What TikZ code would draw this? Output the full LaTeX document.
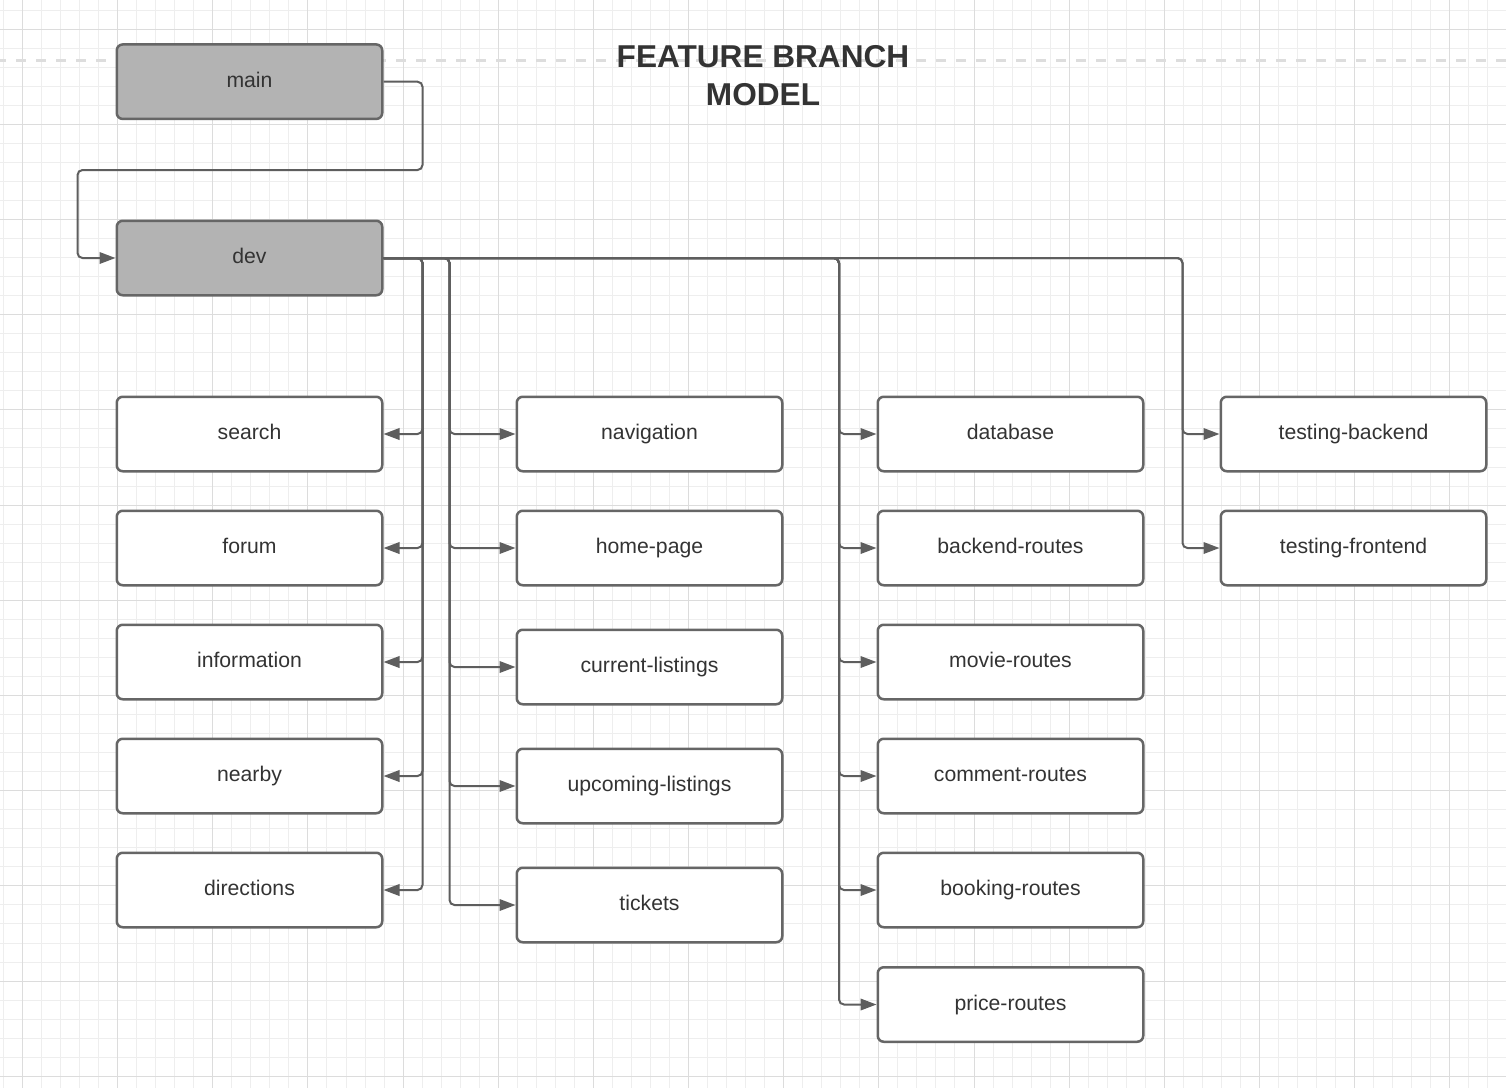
\documentclass[tikz,border=0pt]{standalone}
\usepackage{fontspec}
\setmainfont{Liberation Sans}
\usetikzlibrary{arrows.meta}
\definecolor{gridminor}{HTML}{EEEEEE}
\definecolor{gridmajor}{HTML}{DCDCDC}
\definecolor{edgec}{HTML}{666666}
\definecolor{wirec}{HTML}{5E5E5E}
\definecolor{txtc}{HTML}{333333}
\definecolor{greyfill}{HTML}{B3B3B3}
\definecolor{dashc}{HTML}{DDDDDD}
\begin{document}
\begin{tikzpicture}[x=1pt,y=-1pt,
  branch/.style={draw=edgec, line width=2.5pt, rounded corners=6pt, fill=white,
    minimum width=265.5pt, minimum height=74.5pt, inner sep=0pt, text=txtc,
    font=\fontsize{21.2}{25}\selectfont, text height=15pt, text depth=4pt},
  trunk/.style={branch, fill=greyfill},
  wire/.style={draw=wirec, line width=2pt, rounded corners=5pt,
    -{Triangle[length=16pt,width=11.5pt]}},
  titletext/.style={align=center, text=txtc, inner sep=0pt,
    font=\bfseries\fontsize{31.6}{38}\selectfont}]
\useasboundingbox (0,0) rectangle (1506,1088);
\fill[white] (0,0) rectangle (1506,1088);
% grid
\foreach \n in {-1,...,78} {\draw[gridminor, line width=1pt] ({22.5+19.03*\n},0) -- ({22.5+19.03*\n},1088);}
\foreach \n in {-1,...,56} {\draw[gridminor, line width=1pt] (0,{29.1+19.04*\n}) -- (1506,{29.1+19.04*\n});}
\foreach \n in {0,...,15} {\draw[gridmajor, line width=1pt] ({22.5+95.15*\n},0) -- ({22.5+95.15*\n},1088);}
\foreach \n in {0,...,11} {\draw[gridmajor, line width=1pt] (0,{29.1+95.2*\n}) -- (1506,{29.1+95.2*\n});}
% dashed line
\draw[dashc, line width=3pt, dash pattern=on 10pt off 10pt, dash phase=4pt] (0,60) -- (1506,60);
% title
\node[titletext] (title) at (763,75.9) {FEATURE BRANCH\\MODEL};
% trunk branches
\node[trunk] (main) at (249.5,81.7) {main};
\node[trunk] (dev) at (249.5,258) {dev};
% column 1
\node[branch] (search) at (249.5,434) {search};
\node[branch] (forum) at (249.5,548) {forum};
\node[branch] (information) at (249.5,662) {information};
\node[branch] (nearby) at (249.5,776) {nearby};
\node[branch] (directions) at (249.5,890) {directions};
% column 2
\node[branch] (navigation) at (649.5,434) {navigation};
\node[branch] (homepage) at (649.5,548) {home-page};
\node[branch] (current) at (649.5,667) {current-listings};
\node[branch] (upcoming) at (649.5,786) {upcoming-listings};
\node[branch] (tickets) at (649.5,905) {tickets};
% column 3
\node[branch] (database) at (1010.5,434) {database};
\node[branch] (backend) at (1010.5,548) {backend-routes};
\node[branch] (movie) at (1010.5,662) {movie-routes};
\node[branch] (comment) at (1010.5,776) {comment-routes};
\node[branch] (booking) at (1010.5,890) {booking-routes};
\node[branch] (price) at (1010.5,1004.5) {price-routes};
% column 4
\node[branch] (testback) at (1353.5,434) {testing-backend};
\node[branch] (testfront) at (1353.5,548) {testing-frontend};
% bus coordinates
\coordinate (m1) at (422.5,170);
\coordinate (m2) at (77.5,170);
\coordinate (busA) at (422.5,258);
\coordinate (busB) at (449.5,258);
\coordinate (busC) at (839,258);
\coordinate (busD) at (1182.5,258);
% main -> dev
\draw[wire] (main.east) -| (m1) -- (m2) |- (dev.west);
% dev -> column 1
\foreach \t in {search,forum,information,nearby,directions}
  {\draw[wire] (dev.east) -- (busA) |- (\t.east);}
% dev -> column 2
\foreach \t in {navigation,homepage,current,upcoming,tickets}
  {\draw[wire] (dev.east) -- (busB) |- (\t.west);}
% dev -> column 3
\foreach \t in {database,backend,movie,comment,booking,price}
  {\draw[wire] (dev.east) -- (busC) |- (\t.west);}
% dev -> column 4
\foreach \t in {testback,testfront}
  {\draw[wire] (dev.east) -- (busD) |- (\t.west);}
\end{tikzpicture}
\end{document}
